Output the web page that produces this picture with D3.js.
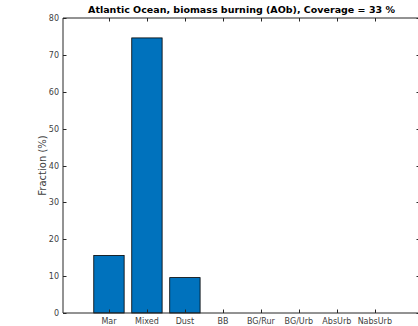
<!DOCTYPE html>
<html>
<head>
<meta charset="utf-8">
<script src="https://cdn.jsdelivr.net/npm/d3@7"></script>
<style>
  body { margin: 0; background: #fff; }
  svg { display: block; font-family: "DejaVu Sans", sans-serif; }
</style>
</head>
<body>
<svg id="chart" width="418" height="326"></svg>
<script>
// data
const categories = ["Mar", "Mixed", "Dust", "BB", "BG/Rur", "BG/Urb", "AbsUrb", "NabsUrb"];
const fractions = [15.6, 74.6, 9.6, 0, 0, 0, 0, 0];
const yTicks = [0, 10, 20, 30, 40, 50, 60, 70, 80];
const titleText = "Atlantic Ocean, biomass burning (AOb), Coverage = 33 %";

const margin = { top: 18, right: -2, bottom: 13, left: 63 };
const width = 418, height = 326;
const axisColor = "#262626";
const labelColor = "#404040";

const svg = d3.select("#chart");

// x range runs a little past the right edge, like the cropped figure
const x = d3.scaleLinear()
    .domain([-0.21, 9.19])
    .range([margin.left, width - margin.right]);
const y = d3.scaleLinear()
    .domain([0, 80])
    .range([height - margin.bottom, margin.top]);

const x0 = x.range()[0], x1 = x.range()[1];
const y0 = y.range()[0], y1 = y.range()[1];
const barW = x(0.8) - x(0);
const tickLen = 3.5;

// bars
svg.selectAll(".bar")
    .data(fractions)
    .enter()
    .append("rect")
    .attr("class", "bar")
    .attr("x", (d, i) => x(i + 1) - barW / 2)
    .attr("y", d => y(d))
    .attr("width", barW)
    .attr("height", d => y(0) - y(d))
    .style("fill", "#0072BD")
    .style("stroke", "#000")
    .style("stroke-width", 0.8);

// box
const g = svg.append("g").attr("stroke", axisColor).attr("stroke-width", 1).attr("fill", "none");
g.append("path").attr("d", `M${x0},${y1}H${x1}V${y0}H${x0}Z`);

// x ticks (bottom + top, inward)
categories.forEach((c, i) => {
    const px = Math.round(x(i + 1)) + 0.5;
    g.append("line").attr("x1", px).attr("x2", px).attr("y1", y0).attr("y2", y0 - tickLen);
    g.append("line").attr("x1", px).attr("x2", px).attr("y1", y1).attr("y2", y1 + tickLen);
});

// y ticks (left + right, inward)
yTicks.forEach(t => {
    const py = Math.round(y(t)) + 0.5;
    g.append("line").attr("x1", x0).attr("x2", x0 + tickLen).attr("y1", py).attr("y2", py);
    g.append("line").attr("x1", x1).attr("x2", x1 - tickLen).attr("y1", py).attr("y2", py);
});

// tick labels
svg.selectAll(".xlab")
    .data(categories)
    .enter()
    .append("text")
    .attr("x", (d, i) => x(i + 1))
    .attr("y", y0 + 11)
    .attr("text-anchor", "middle")
    .style("font-size", "8px")
    .style("fill", labelColor)
    .text(d => d);

svg.selectAll(".ylab")
    .data(yTicks)
    .enter()
    .append("text")
    .attr("x", x0 - 4)
    .attr("y", d => y(d) + 3)
    .attr("text-anchor", "end")
    .style("font-size", "8px")
    .style("fill", labelColor)
    .text(d => d);

// y label
svg.append("text")
    .attr("transform", `translate(46,${(y0 + y1) / 2}) rotate(-90)`)
    .attr("text-anchor", "middle")
    .style("font-size", "10px")
    .style("fill", labelColor)
    .text("Fraction (%)");

// title
svg.append("text")
    .attr("x", (x0 + x1) / 2)
    .attr("y", 13)
    .attr("text-anchor", "middle")
    .style("font-size", "9.5px")
    .style("font-weight", "bold")
    .style("fill", "#000")
    .text(titleText);
</script>
</body>
</html>
